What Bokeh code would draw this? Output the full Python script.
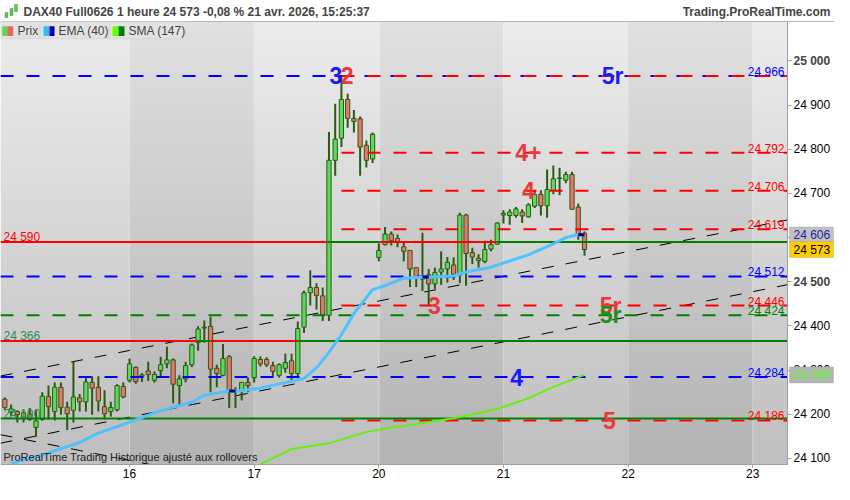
import numpy as np
from bokeh.plotting import figure
from bokeh.models import Range1d, FixedTicker, Label, BoxAnnotation, Span, ColumnDataSource
from bokeh.core.properties import value
from bokeh.embed import file_html
from bokeh.resources import INLINE

# ---------------- data ----------------
title_text = "DAX40 Full0626 1 heure 24 573 -0,08 % 21 avr. 2026, 15:25:37"
site_text = "Trading.ProRealTime.com"
footer_text = "ProRealTime Trading  Historique ajusté aux rollovers"
legend_names = ["Prix", "EMA (40)", "SMA (147)"]

day_labels = ["16", "17", "20", "21", "22", "23"]
day_start = [20, 40, 60, 80, 100, 120]   # candle index of each day's first hour

opens = [24234, 24205, 24206, 24193, 24199, 24170, 24188, 24240, 24206, 24261,
         24216, 24209, 24237, 24228, 24272, 24261, 24217, 24206, 24210, 24263,
         24277, 24306, 24286, 24298, 24277, 24299, 24314, 24323, 24265, 24280,
         24312, 24362, 24395, 24399, 24304, 24288, 24330, 24251, 24252, 24272,
         24283, 24324, 24324, 24310, 24288, 24304, 24321, 24292, 24397, 24475,
         24487, 24468, 24424, 24775, 24825, 24913, 24870, 24869, 24809, 24778,
         24555, 24584, 24608, 24598, 24579, 24571, 24532, 24512, 24516, 24495,
         24522, 24529, 24538, 24515, 24651, 24566, 24553, 24546, 24574, 24585,
         24651, 24650, 24650, 24658, 24647, 24671, 24698, 24672, 24707, 24734,
         24730, 24743, 24669, 24610]
highs = [24238, 24222, 24209, 24208, 24214, 24210, 24250, 24265, 24272, 24272,
         24228, 24319, 24246, 24286, 24286, 24286, 24254, 24228, 24268, 24272,
         24326, 24308, 24293, 24319, 24297, 24330, 24353, 24326, 24288, 24319,
         24360, 24399, 24412, 24421, 24312, 24359, 24334, 24261, 24272, 24283,
         24331, 24331, 24329, 24319, 24315, 24337, 24337, 24410, 24480, 24526,
         24497, 24487, 24839, 24903, 24966, 24926, 24889, 24874, 24820, 24838,
         24587, 24624, 24614, 24607, 24591, 24572, 24533, 24611, 24529, 24532,
         24569, 24556, 24555, 24656, 24654, 24577, 24562, 24593, 24595, 24635,
         24662, 24664, 24669, 24664, 24678, 24706, 24707, 24754, 24763, 24758,
         24749, 24749, 24677, 24614]
lows = [24210, 24195, 24181, 24181, 24185, 24149, 24185, 24188, 24186, 24199,
        24164, 24181, 24206, 24206, 24199, 24206, 24188, 24195, 24206, 24236,
        24272, 24269, 24273, 24275, 24272, 24286, 24304, 24225, 24217, 24272,
        24307, 24344, 24362, 24250, 24261, 24286, 24214, 24214, 24231, 24250,
        24272, 24308, 24307, 24286, 24283, 24294, 24272, 24283, 24384, 24446,
        24437, 24411, 24411, 24740, 24805, 24849, 24838, 24740, 24759, 24769,
        24546, 24582, 24582, 24578, 24546, 24488, 24488, 24479, 24446, 24484,
        24493, 24498, 24504, 24497, 24491, 24540, 24532, 24542, 24569, 24584,
        24632, 24629, 24645, 24633, 24645, 24667, 24650, 24645, 24698, 24696,
        24723, 24664, 24595, 24559]
closes = [24215, 24212, 24199, 24203, 24188, 24185, 24241, 24217, 24261, 24215,
          24201, 24239, 24228, 24273, 24259, 24230, 24201, 24215, 24265, 24239,
          24314, 24274, 24289, 24290, 24290, 24312, 24323, 24268, 24280, 24310,
          24357, 24393, 24397, 24302, 24292, 24326, 24250, 24253, 24272, 24265,
          24326, 24314, 24312, 24297, 24312, 24317, 24292, 24394, 24475, 24487,
          24469, 24424, 24775, 24823, 24913, 24870, 24863, 24805, 24775, 24834,
          24571, 24608, 24593, 24590, 24569, 24529, 24510, 24506, 24495, 24521,
          24529, 24544, 24517, 24651, 24564, 24556, 24548, 24573, 24584, 24633,
          24655, 24658, 24665, 24649, 24674, 24698, 24672, 24709, 24733, 24735,
          24743, 24664, 24606, 24573]

ema_idx = [1, 6, 12, 15, 20, 25, 30, 32, 35, 36, 37, 41, 46, 48, 50, 52, 54, 56,
           59, 61, 64, 67, 68, 72, 74, 78, 81, 84, 88, 90, 92, 93]
ema_val = [24088, 24108, 24136, 24157, 24182, 24208, 24227, 24243, 24250, 24253,
           24252, 24259, 24275, 24281, 24305, 24340, 24380, 24428, 24482, 24491, 24508,
           24511, 24510, 24513, 24522, 24533, 24547, 24561, 24586, 24600, 24607, 24606]
ema_down = [[36, 37], [67, 68], [92, 93]]      # falling stretches (dark blue)

sma_idx = [41, 46, 52, 58, 61, 66, 72, 79, 84, 88, 93]
sma_val = [24087, 24121, 24134, 24160, 24167, 24178, 24191, 24212, 24236, 24262, 24289]

price_ticks = [24100, 24200, 24300, 24400, 24500, 24600, 24700, 24800, 24900, 25000]
bold_ticks = [24500, 25000]

blue_dash_levels = [24966, 24512, 24284]
green_dash_levels = [24424]
red_dash_levels = [24966, 24792, 24706, 24619, 24446, 24186]
red_dash_start = 54

right_label_v = [24966, 24792, 24706, 24619, 24512, 24446, 24424, 24284, 24186]
right_label_c = ["blue", "red", "red", "red", "blue", "red", "green", "blue", "red"]

solid_levels = [24590, 24366, 24190]
solid_switch = [[51.8, 60.1, 78.9], [30.8, 33.0, 47.1], []]   # red <-> green changes
solid_first = ["red", "red", "green"]
left_label_v = [24590, 24366, 24190]
left_label_c = ["red", "green", "green"]

wave_text = ["3", "2", "5r", "4+", "4", "3", "5r", "5r", "4", "5"]
wave_x = [53.1, 54.9, 97.5, 84.0, 84.0, 68.9, 97.2, 97.2, 82.1, 97.0]
wave_y = [24966, 24966, 24966, 24792, 24706, 24446, 24446, 24424, 24284, 24186]
wave_c = ["blue", "red", "blue", "red", "red", "red", "red", "green", "blue", "red"]

trend_i0 = [-0.7, -0.7, -0.7]
trend_v0 = [24286.4, 24134.4, 24153.6]
trend_i1 = [125.57, 125.57, 23.3]
trend_v1 = [24640.0, 24493.4, 24086.1]

last_price = 24573
ema_last = 24606
sma_last = 24289

# ---------------- layout helpers ----------------
FONT = "Liberation Sans"
W, H = 834, 484
CT, CB = 21, 464            # chart top / bottom (figure px)
CL, CR = 0, 787             # chart left / right (figure px)
XC0, XC1 = -0.70, 125.57    # data x at chart edges
YC0, YC1 = 24086.1, 25089.4 # data y at chart edges
UX = (XC1 - XC0) / (CR - CL)
UY = (YC1 - YC0) / (CB - CT)


def fx(px):
    return XC0 + (px - CL) * UX


def fy(py):
    return YC1 - (py - CT) * UY


def rx(x):   # reference chart x -> figure x
    return CL + x * (CR - CL) / 793.0


def ry(y):   # reference chart y -> figure y
    return CT + (y - 21) * (CB - CT) / 461.0


COL = {"red": "#ff0000", "green": "#008000", "blue": "#0000ff"}
TXT = {"red": "#e8383a", "green": "#1f8f1f", "blue": "#1a1aff"}


def fmt(v):
    v = int(v)
    return f"{v // 1000} {v % 1000:03d}"


p = figure(width=W, height=H, x_range=Range1d(fx(0), fx(W)), y_range=Range1d(fy(H), fy(0)),
           output_backend="svg", toolbar_location=None, y_axis_location="right",
           min_border_left=0, min_border_right=0, min_border_top=0, min_border_bottom=0,
           background_fill_color="white", border_fill_color="white",
           outline_line_color=None)
p.grid.visible = False

# background gradient with alternating day bands
res = 8
cols = int(round((XC1 - XC0) * res))
rows = 80
img = np.zeros((rows, cols), dtype=np.uint32)
view = img.view(dtype=np.uint8).reshape((rows, cols, 4))
xc = XC0 + (np.arange(cols) + 0.5) * (XC1 - XC0) / cols
band = (np.floor(np.maximum(xc, 0) / 20).astype(int)) % 2
t = np.arange(rows) / (rows - 1)
for r in range(rows):
    g = np.where(band == 0, 191 + t[r] * 45, 180 + t[r] * 44).astype(np.uint8)
    view[r, :, 0] = g
    view[r, :, 1] = g
    view[r, :, 2] = g
    view[r, :, 3] = 255
p.image_rgba(image=[img], x=XC0, y=YC0, dw=XC1 - XC0, dh=YC1 - YC0)

p.segment(x0=day_start, y0=[YC0] * len(day_start), x1=day_start, y1=[YC1] * len(day_start),
          line_color="white", line_alpha=0.3, line_width=1)
p.add_layout(Span(location=YC1, dimension="width", line_color="#b4b4b4", line_width=1))

# trend lines
p.segment(x0=trend_i0, y0=trend_v0, x1=trend_i1, y1=trend_v1,
          line_color="black", line_width=1, line_dash="12 12")

# candles
idx = list(range(len(opens)))
src = ColumnDataSource(dict(
    x=idx, h=highs, l=lows,
    top=[max(o, c) for o, c in zip(opens, closes)],
    bot=[min(o, c) for o, c in zip(opens, closes)],
    fill=["#58dc58" if c >= o else "#e8766c" for o, c in zip(opens, closes)]))
WICK = "#2b5b12"
p.segment(x0="x", y0="l", x1="x", y1="h", source=src, line_color=WICK, line_width=2)
p.vbar(x="x", width=0.68, top="top", bottom="bot", fill_color="fill",
       line_color=WICK, line_width=1, source=src)

# horizontal levels
for lv in blue_dash_levels:
    p.segment(x0=[XC0], y0=[lv], x1=[XC1], y1=[lv], line_color=COL["blue"],
              line_width=2, line_dash="13 13")
for lv in green_dash_levels:
    p.segment(x0=[XC0], y0=[lv], x1=[XC1], y1=[lv], line_color=COL["green"],
              line_width=2, line_dash="13 13")
for lv in red_dash_levels:
    p.segment(x0=[red_dash_start], y0=[lv], x1=[XC1], y1=[lv], line_color=COL["red"],
              line_width=2, line_dash="13 13")
for lv, sw, first in zip(solid_levels, solid_switch, solid_first):
    xs = [XC0] + sw + [XC1]
    c = first
    for a, b in zip(xs[:-1], xs[1:]):
        p.segment(x0=[a], y0=[lv], x1=[b], y1=[lv], line_color=COL[c], line_width=2)
        c = "green" if c == "red" else "red"

# moving averages
p.line(sma_idx, sma_val, line_color="#66ee11", line_width=2)
p.line(ema_idx, ema_val, line_color="#4fc1ff", line_width=3)
for a, b in ema_down:
    sel = [(i, v) for i, v in zip(ema_idx, ema_val) if a <= i <= b]
    p.line([s[0] for s in sel], [s[1] for s in sel], line_color="#000088", line_width=3)

# level labels
rsrc = ColumnDataSource(dict(x=[fx(rx(790))] * len(right_label_v),
                             y=[v + 4 * UY for v in right_label_v],
                             t=[fmt(v) for v in right_label_v],
                             c=[COL[c] for c in right_label_c]))
p.text(x="x", y="y", text="t", text_color="c", source=rsrc, text_font=value(FONT),
       text_font_size="12px", text_align="right", text_baseline="alphabetic")
lsrc = ColumnDataSource(dict(x=[fx(rx(3))] * len(left_label_v),
                             y=[v + 5 * UY for v in left_label_v],
                             t=[fmt(v) for v in left_label_v],
                             c=["#ff0000" if c == "red" else "#2e8b57" for c in left_label_c]))
p.text(x="x", y="y", text="t", text_color="c", source=lsrc, text_font=value(FONT),
       text_font_size="12px", text_align="left", text_baseline="alphabetic")

wsrc = ColumnDataSource(dict(x=wave_x, y=wave_y, t=wave_text, c=[TXT[c] for c in wave_c]))
p.text(x="x", y="y", text="t", text_color="c", source=wsrc, text_font=value(FONT),
       text_font_size="23px", text_font_style="bold", text_align="center",
       text_baseline="middle")

# axes (drawn at the chart edges)
p.xaxis.fixed_location = YC0
p.xaxis.bounds = (XC0, XC1)
p.xaxis.ticker = FixedTicker(ticks=day_start)
p.xaxis.major_label_overrides = {d: l for d, l in zip(day_start, day_labels)}
p.xaxis.major_tick_out = 3
p.xaxis.major_label_standoff = 1
p.yaxis.fixed_location = XC1
p.yaxis.bounds = (YC0, YC1)
p.yaxis.ticker = FixedTicker(ticks=price_ticks)
p.yaxis.major_label_overrides = {tk: ("" if tk in bold_ticks else fmt(tk)) for tk in price_ticks}
p.yaxis.major_tick_out = 4
p.yaxis.major_label_standoff = 2
for ax in (p.xaxis, p.yaxis):
    ax.minor_tick_line_color = None
    ax.major_tick_in = 0
    ax.axis_line_color = "#a0a0a0"
    ax.major_tick_line_color = "#a0a0a0"
    ax.major_label_text_font = FONT
    ax.major_label_text_font_size = "12px"
    ax.major_label_text_color = "black"

for tk in bold_ticks:
    p.add_layout(Label(x=fx(CR + 6), y=tk, text=fmt(tk), text_font=FONT,
                       text_font_size="12px", text_font_style="bold",
                       text_align="left", text_baseline="middle"))

# price boxes on the axis
for v, bg, fg in [(ema_last, "#c0c0c0", "#1c1ca8"), (last_price, "#ffcc00", "black"),
                  (sma_last, "#b4b4b4", "#55ff22")]:
    p.add_layout(BoxAnnotation(left=fx(CR + 2), right=fx(CR + 46), top=v + 8 * UY,
                               bottom=v - 8 * UY, fill_color=bg, fill_alpha=1,
                               line_color="#9a9a9a", line_width=1))
    p.add_layout(Label(x=fx(CR + 6), y=v, text=fmt(v), text_font=FONT,
                       text_font_size="12px", text_color=fg, text_align="left",
                       text_baseline="middle"))

# legend row
boxes = [(0, 39), (40, 109), (110, 185)]
sw = [[(1.7, 6.7, "#55dd55"), (6.7, 12.7, "#e06a60")],
      [(43, 49, "#33bbff"), (49, 54, "#0000aa")],
      [(112, 118, "#66ff00"), (118, 124, "#008000")]]
txt_x = [17, 58, 128]
for (a, b), sws, tx, name in zip(boxes, sw, txt_x, legend_names):
    p.add_layout(BoxAnnotation(left=fx(a), right=fx(b), top=YC1, bottom=fy(ry(39)),
                               fill_color="#e2e2e2", fill_alpha=1, line_color="#c4c4c4",
                               line_width=1))
    for s0, s1, c in sws:
        p.add_layout(BoxAnnotation(left=fx(s0), right=fx(s1), top=fy(ry(26)),
                                   bottom=fy(ry(36)), fill_color=c, fill_alpha=1,
                                   line_color=None))
    p.add_layout(Label(x=fx(tx), y=fy(ry(30.5)), text=name, text_font=FONT,
                       text_font_size="12px", text_align="left", text_baseline="middle"))

# header & footer
for (a, b, t0, t1) in [(4.5, 7.5, 12, 17), (9.5, 12.5, 8, 15), (14, 17, 4, 11)]:
    p.add_layout(BoxAnnotation(left=fx(a), right=fx(b), top=fy(t0), bottom=fy(t1),
                               fill_color="#55cc55", fill_alpha=1, line_color="#2b5b12"))
p.add_layout(Label(x=fx(23), y=fy(11), text=title_text, text_font=FONT,
                   text_font_size="12px", text_font_style="bold", text_align="left",
                   text_baseline="middle"))
p.add_layout(Label(x=fx(830), y=fy(11), text=site_text, text_font=FONT,
                   text_font_size="12px", text_font_style="bold", text_align="right",
                   text_baseline="middle"))
p.add_layout(Label(x=fx(rx(3)), y=fy(ry(474)), text=footer_text, text_font=FONT,
                   text_font_size="11px", text_color="#222222", text_align="left",
                   text_baseline="middle"))

open("out.html", "w").write(file_html(p, INLINE))
